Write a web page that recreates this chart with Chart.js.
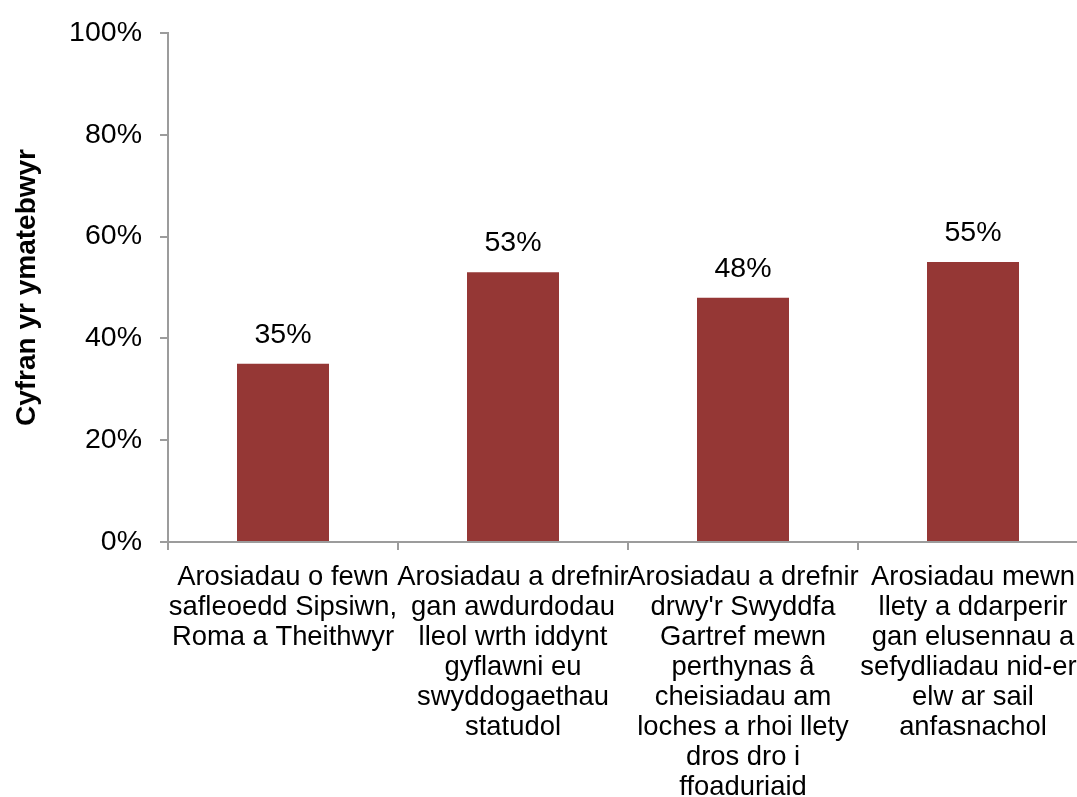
<!DOCTYPE html>
<html>
<head>
<meta charset="utf-8">
<script src="https://cdn.jsdelivr.net/npm/chart.js@4/dist/chart.umd.min.js"></script>
<style>
  html, body { margin: 0; padding: 0; overflow: hidden; background: #fff; }
  #wrap { width: 1088px; height: 797px; position: relative; }
</style>
</head>
<body>
<div id="wrap"><canvas id="chart"></canvas></div>
<script>
const categories = [
    ['Arosiadau o fewn', 'safleoedd Sipsiwn,', 'Roma a Theithwyr'],
    ['Arosiadau a drefnir', 'gan awdurdodau', 'lleol wrth iddynt', 'gyflawni eu', 'swyddogaethau', 'statudol'],
    ['Arosiadau a drefnir', "drwy'r Swyddfa", 'Gartref mewn', 'perthynas â', 'cheisiadau am', 'loches a rhoi llety', 'dros dro i', 'ffoaduriaid'],
    ['Arosiadau mewn', 'llety a ddarperir', 'gan elusennau a', 'sefydliadau nid-er-', 'elw ar sail', 'anfasnachol']
];
const shares = [35, 53, 48, 55];
const yTicks = [0, 20, 40, 60, 80, 100];
const yTitle = 'Cyfran yr ymatebwyr';

const fontFamily = '"Liberation Sans", Arial, sans-serif';
const axisGrey = '#9c9c9c';

// draws the value labels above each bar
const valueLabels = {
    id: 'valueLabels',
    afterDatasetsDraw(chart) {
        const ctx = chart.ctx;
        const meta = chart.getDatasetMeta(0);
        ctx.save();
        ctx.font = '28.5px ' + fontFamily;
        ctx.fillStyle = '#000';
        ctx.textAlign = 'center';
        ctx.textBaseline = 'middle';
        meta.data.forEach((bar, i) => {
            ctx.fillText(shares[i] + '%', bar.x, bar.y - 29);
        });
        ctx.restore();
    }
};

new Chart(document.getElementById('chart').getContext('2d'), {
    type: 'bar',
    data: {
        labels: categories,
        datasets: [{
            data: shares,
            backgroundColor: '#953735',
            categoryPercentage: 1,
            barPercentage: 0.4
        }]
    },
    options: {
        responsive: true,
        maintainAspectRatio: false,
        animation: false,
        layout: { padding: { top: 33, left: 0, right: 0, bottom: 0 } },
        plugins: {
            legend: { display: false },
            tooltip: { enabled: false }
        },
        scales: {
            x: {
                grid: { drawOnChartArea: false, drawTicks: true, tickLength: 8, color: axisGrey, lineWidth: 2, offset: true },
                border: { color: axisGrey, width: 2 },
                ticks: {
                    color: '#000',
                    font: { family: fontFamily, size: 27.4, lineHeight: '30px' },
                    padding: 12,
                    autoSkip: false,
                    maxRotation: 0,
                    minRotation: 0
                },
                afterFit(scale) {
                    scale.height = 255;
                    // labels may spill a little past the plot edges; don't shrink the plot for that
                    scale.paddingLeft = 0;
                    scale.paddingRight = 0;
                }
            },
            y: {
                min: 0,
                max: 100,
                grid: { drawOnChartArea: false, drawTicks: true, tickLength: 8, color: axisGrey, lineWidth: 2 },
                border: { color: axisGrey, width: 2 },
                afterBuildTicks(scale) { scale.ticks = yTicks.map(v => ({ value: v })); },
                ticks: {
                    color: '#000',
                    font: { family: fontFamily, size: 28.5 },
                    padding: 18,
                    callback: v => v + '%'
                },
                title: {
                    display: true,
                    text: yTitle,
                    color: '#000',
                    font: { family: fontFamily, size: 28, weight: 'bold' },
                    padding: { top: 10, bottom: 0 }
                },
                afterFit(scale) {
                    scale.width = 168;
                    scale.paddingTop = 0;
                    scale.paddingBottom = 0;
                }
            }
        }
    },
    plugins: [valueLabels]
});
</script>
</body>
</html>
